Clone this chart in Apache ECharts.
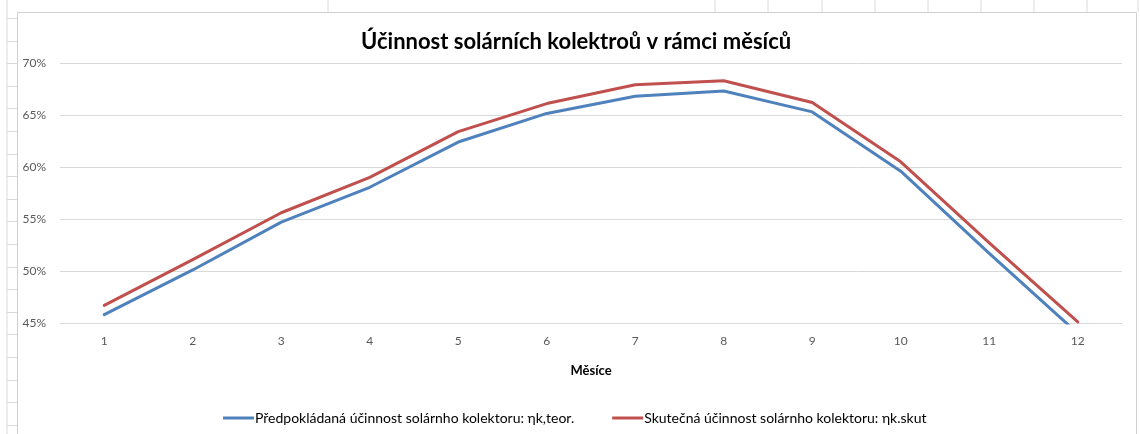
<!DOCTYPE html>
<html>
<head>
<meta charset="utf-8">
<script src="https://cdn.jsdelivr.net/npm/echarts@6/dist/echarts.min.js"></script>
<style>
    html, body { margin: 0; padding: 0; background: #fff; }
    #main { width: 1140px; height: 434px; }
</style>
</head>
<body>
<div id="main"></div>
<script>
const months = ['1', '2', '3', '4', '5', '6', '7', '8', '9', '10', '11', '12']
// účinnost v %
const predpokladana = [45.8, 50.1, 54.7, 58.05, 62.4, 65.15, 66.8, 67.3, 65.3, 59.6, 51.7, 44.0]
const skutecna = [46.7, 51.1, 55.6, 59.0, 63.4, 66.1, 67.9, 68.3, 66.2, 60.5, 52.7, 45.1]
const yTicks = [45, 50, 55, 60, 65, 70]

const font = 'Lato, "Open Sans", sans-serif'
const cellColor = '#dadada'

// mřížka listu za grafem
const sheetLines = () => {
    const items = []
    const cols = [328, 715, 768, 822, 875, 928, 981, 1034, 1087, 1138]
    cols.forEach((x) => {
        items.push({ type: 'line', shape: { x1: x, y1: 0, x2: x, y2: 12 }, style: { stroke: cellColor, lineWidth: 1 } })
    })
    items.push({ type: 'line', shape: { x1: 7, y1: 0, x2: 7, y2: 434 }, style: { stroke: cellColor, lineWidth: 1 } })
    for (let y = 18; y < 434; y += 22.6) {
        items.push({ type: 'line', shape: { x1: 7, y1: Math.round(y) + 0.5, x2: 17, y2: Math.round(y) + 0.5 }, style: { stroke: cellColor, lineWidth: 1 } })
    }
    items.push({
        type: 'rect',
        shape: { x: 17.5, y: 12.5, width: 1119, height: 430 },
        style: { fill: 'none', stroke: '#d0d0d0', lineWidth: 1 },
        z: -1,
    })
    return items
}

const chart = echarts.init(document.getElementById('main'))

chart.setOption({
    animation: false,
    textStyle: { fontFamily: font },
    graphic: sheetLines(),
    title: {
        text: 'Účinnost solárních kolektroů v rámci měsíců',
        left: 356,
        top: 26,
        textStyle: {
            fontFamily: font,
            fontSize: 22,
            fontWeight: 'bold',
            color: '#000',
        },
    },
    grid: {
        left: 60,
        right: 18,
        top: 63,
        bottom: 111,
    },
    xAxis: {
        type: 'category',
        data: months,
        boundaryGap: true,
        name: 'Měsíce',
        nameLocation: 'middle',
        nameGap: 41,
        nameTextStyle: {
            fontFamily: font,
            fontSize: 13,
            fontWeight: 'bold',
            color: '#000',
        },
        axisLine: { lineStyle: { color: '#d9d9d9' } },
        axisTick: { show: false },
        axisLabel: {
            color: '#595959',
            fontSize: 12,
            margin: 12,
        },
    },
    yAxis: {
        type: 'value',
        min: yTicks[0],
        max: yTicks[yTicks.length - 1],
        interval: 5,
        axisLine: { show: false },
        axisTick: { show: false },
        axisLabel: {
            color: '#595959',
            fontSize: 12,
            margin: 14,
            formatter: '{value}%',
        },
        splitLine: { lineStyle: { color: '#d9d9d9' } },
    },
    legend: {
        left: 218,
        top: 406,
        icon: 'rect',
        itemWidth: 31,
        itemHeight: 3,
        itemGap: 38,
        textStyle: {
            fontFamily: font,
            fontSize: 14,
            color: '#000',
            padding: [0, 0, 0, -4],
        },
    },
    series: [
        {
            name: 'Předpokládaná účinnost solárnho kolektoru: ηk,teor.',
            type: 'line',
            data: predpokladana,
            symbol: 'none',
            clip: true,
            itemStyle: { color: '#4f81bd' },
            lineStyle: { color: '#4f81bd', width: 3, cap: 'round', join: 'round' },
        },
        {
            name: 'Skutečná účinnost solárnho kolektoru: ηk.skut',
            type: 'line',
            data: skutecna,
            symbol: 'none',
            clip: true,
            itemStyle: { color: '#c0504d' },
            lineStyle: { color: '#c0504d', width: 3, cap: 'round', join: 'round' },
        },
    ],
})
</script>
</body>
</html>
